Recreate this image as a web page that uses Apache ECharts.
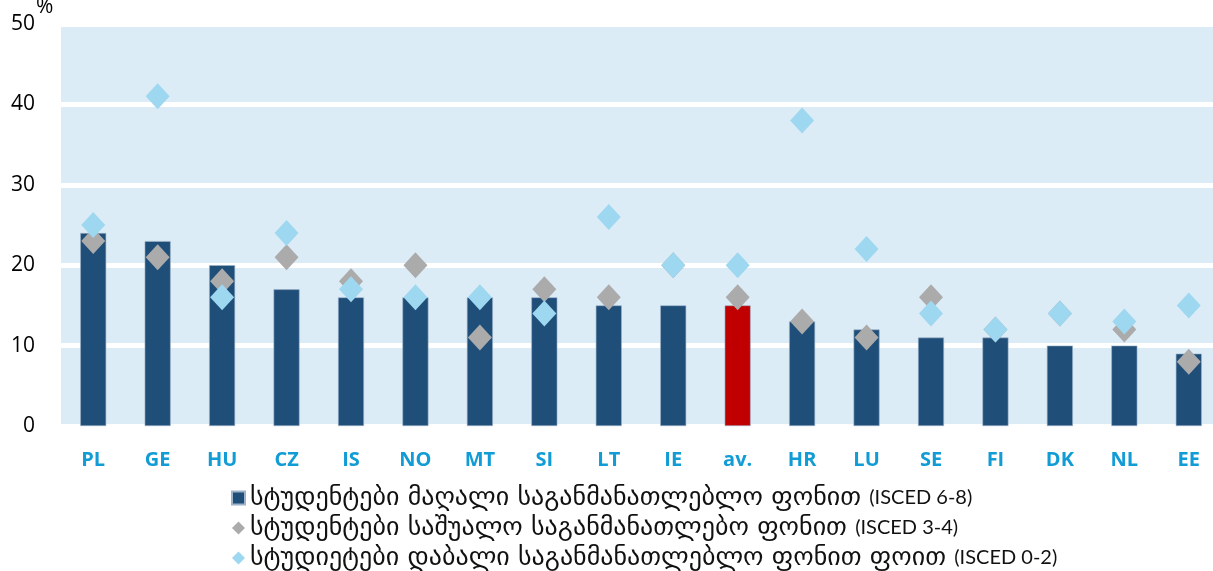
<!DOCTYPE html>
<html>
<head>
<meta charset="utf-8">
<script src="https://cdn.jsdelivr.net/npm/echarts@6/dist/echarts.min.js"></script>
<style>
  html, body { margin: 0; padding: 0; background: #fff; }
  #chart { width: 1213px; height: 571px; }
</style>
</head>
<body>
<div id="chart"></div>
<script>
// categories (countries + average)
var countries = ["PL", "GE", "HU", "CZ", "IS", "NO", "MT", "SI", "LT", "IE", "av.", "HR", "LU", "SE", "FI", "DK", "NL", "EE"];
// students from high educational background (bars)
var highEdu = [24, 23, 20, 17, 16, 16, 16, 16, 15, 15, 15, 13, 12, 11, 11, 10, 10, 9];
// medium background (grey diamonds)
var midEdu = [23, 21, 18, 21, 18, 20, 11, 17, 16, 20, 16, 13, 11, 16, 12, 14, 12, 8];
// low background (light blue diamonds)
var lowEdu = [25, 41, 16, 24, 17, 16, 16, 14, 26, 20, 20, 38, 22, 14, 12, 14, 13, 15];
var yTicks = [0, 10, 20, 30, 40, 50];

var seriesNames = [
  "სტუდენტები მაღალი საგანმანათლებლო ფონით (ISCED 6-8)",
  "სტუდენტები საშუალო საგანმანათლებო ფონით (ISCED 3-4)",
  "სტუდიეტები დაბალი საგანმანათლებლო ფონით ფოით (ISCED 0-2)"
];

var myChart = echarts.init(document.getElementById("chart"));
myChart.setOption({
  animation: false,
  grid: {
    left: 61,
    width: 1160,
    top: 24,
    bottom: 145,
    outerBoundsMode: "none",
    show: true,
    backgroundColor: "#DCECF6",
    borderWidth: 0
  },
  graphic: [
    {
      type: "text",
      left: 36,
      top: -3,
      style: { text: "%", fontSize: 21, fontFamily: "Open Sans", fill: "#000" }
    }
  ],
  legend: {
    orient: "vertical",
    left: 231,
    top: 485,
    padding: 0,
    itemWidth: 13,
    itemHeight: 13,
    itemGap: 4,
    formatter: function (name) {
      // georgian part and latin part drawn with different fonts
      var k = name.indexOf("(");
      return "{g|" + name.slice(0, k) + "}{l|" + name.slice(k) + "}";
    },
    textStyle: {
      color: "#111",
      rich: {
        g: { fontSize: 26, fontFamily: "DejaVu Sans", color: "#111", lineHeight: 26 },
        l: { fontSize: 20, fontFamily: "Lato", color: "#111", lineHeight: 26 }
      }
    },
    data: [
      { name: seriesNames[0], icon: "rect" },
      { name: seriesNames[1], icon: "diamond" },
      { name: seriesNames[2], icon: "diamond" }
    ]
  },
  xAxis: {
    type: "category",
    data: countries,
    axisLine: { show: false },
    axisTick: { show: false },
    axisLabel: {
      margin: 24,
      fontSize: 20,
      fontWeight: "bold",
      fontFamily: "Open Sans",
      color: "#129CD6"
    }
  },
  yAxis: {
    type: "value",
    min: yTicks[0],
    max: yTicks[yTicks.length - 1],
    interval: 10,
    axisLine: { show: false },
    axisTick: { show: false },
    axisLabel: { margin: 26, fontSize: 21, fontFamily: "Open Sans", color: "#000" },
    splitLine: { lineStyle: { color: "#fff", width: 5 } }
  },
  series: [
    {
      name: seriesNames[0],
      type: "bar",
      barWidth: 26,
      data: highEdu.map(function (v, i) {
        return countries[i] === "av."
          ? { value: v, itemStyle: { color: "#C00000" } }
          : v;
      }),
      itemStyle: { color: "#1F4E79", borderColor: "#9DB3C9", borderWidth: 0.6 },
      z: 2
    },
    {
      name: seriesNames[1],
      type: "scatter",
      symbol: "diamond",
      symbolSize: [24, 26],
      data: midEdu,
      itemStyle: { color: "#ABABAB", opacity: 1 },
      z: 3
    },
    {
      name: seriesNames[2],
      type: "scatter",
      symbol: "diamond",
      symbolSize: [24, 26],
      data: lowEdu,
      itemStyle: { color: "#9ED7F0", opacity: 1 },
      z: 4
    }
  ]
});
window.addEventListener("resize", function () {
  myChart.resize();
});
</script>
</body>
</html>
